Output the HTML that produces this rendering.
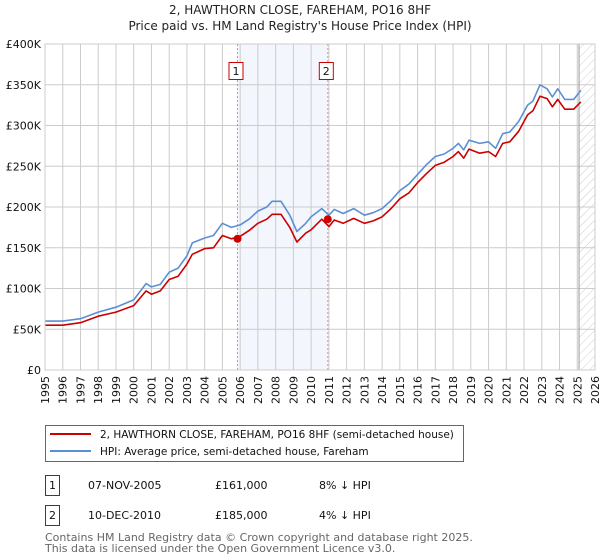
<!DOCTYPE html>
<html><head><meta charset="utf-8"><style>
body{margin:0;background:#fff;}
svg{display:block;font-family:"DejaVu Sans","Liberation Sans",sans-serif;}
</style></head><body>
<svg id="c" width="600" height="560">
<defs><pattern id="hatch" width="6" height="6" patternUnits="userSpaceOnUse" patternTransform="rotate(45)"><line x1="0" y1="0" x2="0" y2="6" stroke="#ccc" stroke-width="1"/></pattern></defs>
<text x="300" y="14" text-anchor="middle" font-size="12" fill="#222">2, HAWTHORN CLOSE, FAREHAM, PO16 8HF</text>
<text x="300" y="30" text-anchor="middle" font-size="12" fill="#222">Price paid vs. HM Land Registry's House Price Index (HPI)</text>
<g id="plot"></g>
<g>
<rect x="45.5" y="425.5" width="418" height="36" fill="#fff" stroke="#666"/>
<line x1="50" y1="434" x2="91" y2="434" stroke="#cc0000" stroke-width="2"/>
<text x="100" y="438" font-size="10.5" fill="#111">2, HAWTHORN CLOSE, FAREHAM, PO16 8HF (semi-detached house)</text>
<line x1="50" y1="451" x2="91" y2="451" stroke="#5b8fd4" stroke-width="2"/>
<text x="100" y="455" font-size="10.5" fill="#111">HPI: Average price, semi-detached house, Fareham</text>
</g>
<g font-size="11" fill="#111">
<rect x="45.5" y="475.5" width="14" height="20" fill="none" stroke="#cc0000"/>
<text x="52.5" y="489" text-anchor="middle">1</text>
<text x="88" y="489">07-NOV-2005</text><text x="215" y="489">£161,000</text><text x="319" y="489">8% ↓ HPI</text>
<rect x="45.5" y="505.5" width="14" height="20" fill="none" stroke="#cc0000"/>
<text x="52.5" y="519" text-anchor="middle">2</text>
<text x="88" y="519">10-DEC-2010</text><text x="215" y="519">£185,000</text><text x="319" y="519">4% ↓ HPI</text>
</g>
<text x="45" y="541" font-size="11" fill="#666">Contains HM Land Registry data © Crown copyright and database right 2025.</text>
<text x="45" y="552" font-size="11" fill="#666">This data is licensed under the Open Government Licence v3.0.</text>
</svg>
<script>
const hpiYears=[1995,1996,1997,1998,1999,2000,2000.7,2001,2001.5,2002,2002.5,2003,2003.3,2004,2004.5,2005,2005.5,2006,2006.5,2007,2007.5,2007.8,2008.3,2008.8,2009.2,2009.7,2010,2010.6,2011,2011.3,2011.8,2012.4,2013,2013.5,2014,2014.5,2015,2015.5,2016,2016.5,2017,2017.5,2018,2018.3,2018.6,2018.9,2019.5,2020,2020.4,2020.8,2021.2,2021.7,2022.2,2022.5,2022.9,2023.3,2023.6,2023.9,2024.3,2024.8,2025.2];
const hpiValues=[60,60,63,71,77,86,106,102,105,120,125,140,156,162,165,180,175,178,185,195,200,207,207,190,170,180,188,198,190,197,192,198,190,193,198,208,220,228,240,252,262,265,272,278,270,282,278,280,272,290,292,305,325,330,350,345,335,345,332,332,343];
const paidValues=[55,55,58,66,71,79,97,93,97,111,115,130,142,149,150,165,161,164,171,180,185,191,191,175,157,168,172,185,176,184,180,186,180,183,188,198,210,217,230,241,251,255,262,268,260,271,266,268,262,278,280,293,313,318,336,333,323,332,320,320,329];
const sales=[{year:2005.85,value:161,label:"1"},{year:2010.94,value:185,label:"2"}];
const yTicks=[0,50,100,150,200,250,300,350,400];
const yTickLabels=["£0","£50K","£100K","£150K","£200K","£250K","£300K","£350K","£400K"];
const xTicks=[1995,1996,1997,1998,1999,2000,2001,2002,2003,2004,2005,2006,2007,2008,2009,2010,2011,2012,2013,2014,2015,2016,2017,2018,2019,2020,2021,2022,2023,2024,2025,2026];
const dataEnd=2025.1;
const L=45,R=595,T=44,B=370;
const xs=y=>L+(y-1995)/(2026-1995)*(R-L);
const ys=v=>B-v/400*(B-T);
const g=document.getElementById('plot');
const NS='http://www.w3.org/2000/svg';
function mk(t,a){const e=document.createElementNS(NS,t);for(const k in a)e.setAttribute(k,a[k]);g.appendChild(e);return e;}
let band=mk('rect',{x:xs(sales[0].year),y:T,width:xs(sales[1].year)-xs(sales[0].year),height:B-T,fill:'#f3f6fd'});


let hat=mk('rect',{x:xs(dataEnd),y:T,width:R-xs(dataEnd),height:B-T,fill:'url(#hatch)'});


yTicks.forEach((v,i)=>{
 let l=mk('line',{x1:L,x2:R,y1:ys(v),y2:ys(v),stroke:'#ccc','stroke-width':1});
 
 
 let t=mk('text',{x:L-4,y:ys(v)+4,'text-anchor':'end','font-size':11,fill:'#111'});
 t.textContent=yTickLabels[i];
 
 
});
xTicks.forEach(y=>{
 let l=mk('line',{x1:xs(y),x2:xs(y),y1:T,y2:B,stroke:'#ccc','stroke-width':1});
 
 
 let t=mk('text',{x:0,y:0,'text-anchor':'end','font-size':11,fill:'#111',transform:`translate(${xs(y)+4},${B+6}) rotate(-90)`});
 t.textContent=y;
 
 
});
let dl=mk('line',{x1:xs(dataEnd),x2:xs(dataEnd),y1:T,y2:B,stroke:'#999','stroke-width':1});


sales.forEach(s=>{
 let l=mk('line',{x1:xs(s.year),x2:xs(s.year),y1:T,y2:B,stroke:'#e88','stroke-width':1,'stroke-dasharray':'2,2'});
 
 
 let r=mk('rect',{x:xs(s.year)-8.5,y:62.5,width:14,height:17,fill:'#fff',stroke:'#cc0000'});
 
 
 let t=mk('text',{x:xs(s.year)-1.5,y:75,'text-anchor':'middle','font-size':11,fill:'#111'});
 t.textContent=s.label;
 
 
});
function path(vals,color,name){
 let d=hpiYears.map((y,i)=>(i?'L':'M')+xs(y).toFixed(1)+','+ys(vals[i]).toFixed(1)).join('');
 let p=mk('path',{d:d,fill:'none',stroke:color,'stroke-width':1.6,'stroke-linejoin':'round'});
 
 
}
path(hpiValues,'#5b8fd4','hpi-line');
path(paidValues,'#cc0000','price-paid-line');
sales.forEach(s=>{
 let c=mk('circle',{cx:xs(s.year),cy:ys(s.value),r:4,fill:'#cc0000'});
 
 
});
let ax=mk('rect',{x:L,y:T,width:R-L,height:B-T,fill:'none',stroke:'#ccc'});


</script>
</body></html>
